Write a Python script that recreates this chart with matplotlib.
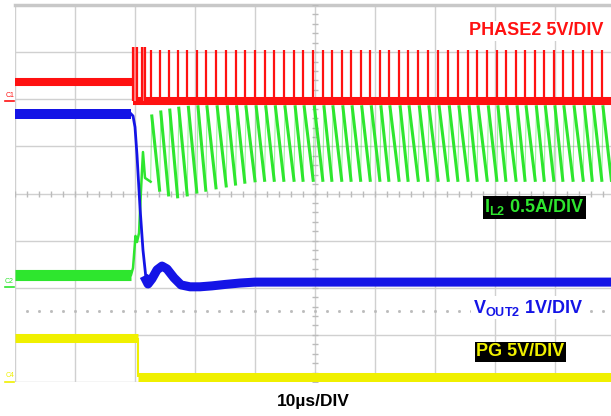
import numpy as np
import matplotlib.pyplot as plt

plt.rcParams['font.family'] = ['Liberation Sans', 'DejaVu Sans']
plt.rcParams['mathtext.fontset'] = 'custom'
plt.rcParams['mathtext.rm'] = 'Liberation Sans'
plt.rcParams['mathtext.bf'] = 'Liberation Sans:bold'

# 时间轴 µs (10µs/DIV)，纵轴以格为单位，中心为 0

# PHASE2 5V/DIV
phase_pre = 2.37
phase_base = 1.96
phase_top = 3.05
t_switch = 19.6
phase_bursts = [(19.6, 20.3), (21.1, 21.7)]
phase_pulses = [22.6, 24.1, 25.6, 27.1, 28.7, 30.3, 31.8, 33.5, 35.2, 36.75,
                38.3, 40.0, 41.6, 43.2, 44.8, 46.5, 48.0, 49.7, 51.3, 52.8,
                54.45, 56.0, 57.6, 59.2, 60.8, 62.3, 64.0, 65.5, 67.2, 68.8,
                70.5, 72.2, 73.8, 75.5, 77.0, 78.7, 80.3, 81.8, 83.5, 85.0,
                86.7, 88.2, 89.8, 91.3, 93.0, 94.7, 96.2, 97.8]

# IL2 0.5A/DIV
il_pre = -1.73
il_start_t = [19.33, 19.67, 20.08, 20.33, 20.67, 21.0, 21.33, 21.67]
il_start_v = [-1.73, -1.58, -0.90, -1.03, -0.84, 0.07, 0.88, 0.33]
il_valley = [0.25, 0.07, -0.03, -0.07, -0.03, 0.03, 0.07, 0.12, 0.16, 0.20,
             0.24, 0.27, 0.28, 0.28, 0.28, 0.28, 0.28, 0.28, 0.28, 0.28,
             0.28, 0.28, 0.28, 0.28, 0.28, 0.28, 0.28, 0.28, 0.28, 0.28,
             0.28, 0.28, 0.28, 0.28, 0.28, 0.28, 0.28, 0.28, 0.28, 0.28,
             0.28, 0.28, 0.28, 0.28, 0.28, 0.28, 0.28, 0.28]
il_peak = [1.645, 1.73, 1.77, 1.81, 1.83, 1.84, 1.84, 1.84, 1.84, 1.84,
           1.84, 1.84, 1.84, 1.84, 1.84, 1.84, 1.84, 1.84, 1.84, 1.84,
           1.84, 1.84, 1.84, 1.84, 1.84, 1.84, 1.84, 1.84, 1.84, 1.84,
           1.84, 1.84, 1.84, 1.84, 1.84, 1.84, 1.84, 1.84, 1.84, 1.84,
           1.84, 1.84, 1.84, 1.84, 1.84, 1.84, 1.84, 1.84]
il_end = (99.4, 0.28)

# VOUT2 1V/DIV
vout_pre = 1.69
vout_fall_t = [19.33, 19.67, 20.0, 20.33, 20.83, 21.33, 21.83, 22.17]
vout_fall_v = [1.69, 1.645, 1.41, 0.82, -0.29, -1.20, -1.80, -1.92]
vout_settle_t = [21.83, 22.17, 22.83, 23.67, 24.5, 25.33, 26.5, 27.67,
                 29.17, 30.83, 32.83, 35.0, 37.5, 40.0, 100.0]
vout_settle_v = [-1.835, -1.92, -1.81, -1.62, -1.54, -1.60, -1.79, -1.94,
                 -1.98, -1.98, -1.96, -1.93, -1.90, -1.88, -1.88]

# PG 5V/DIV
pg_high = -3.07
pg_low = -3.90
t_pg = 20.45

red = '#ff1111'
blue = '#1414e6'
green = '#2ee62e'
yellow = '#f0f000'
grid_c = '#d0d0d0'

fig = plt.figure(figsize=(6.11, 4.16), dpi=100)
ax = fig.add_axes([15 / 611, 34 / 416, 596 / 611, 377 / 416])
ax.set_xlim(0, 596 / 6)
ax.set_ylim(-4, 4)
ax.axis('off')

# 示波器网格
for t in range(0, 100, 10):
    ax.axvline(t, color=grid_c, lw=1, zorder=0)
for d in range(-4, 4):
    ax.axhline(d, color=grid_c, lw=1, zorder=0)
ax.axhline(4, color='#c8c8c8', lw=2.5, zorder=0, clip_on=False)
ax.plot(np.arange(0, 100, 2), np.zeros(50), '|', ms=4, color='#bbbbbb', zorder=0)
ax.plot(np.full(41, 50), np.linspace(-4, 4, 41), '_', ms=4, color='#bbbbbb', zorder=0)
ax.plot(np.arange(2, 100, 2), np.full(49, -2.5), 's', ms=1, color='#bbbbbb', zorder=0)

# PHASE2
ax.plot([0, t_switch], [phase_pre, phase_pre], color=red, lw=5.8,
        solid_capstyle='butt', zorder=5)
ax.plot([t_switch, 100], [phase_base, phase_base], color=red, lw=5.8,
        solid_capstyle='butt', zorder=5)
for a, b in phase_bursts:
    ax.fill_between([a, b], phase_base, phase_top + 0.05, color='#ff8c8c', lw=0, zorder=5)
    ax.vlines([a, b], phase_base, phase_top + 0.05, color=red, lw=1.6, zorder=5)
ax.vlines(phase_pulses, phase_base, phase_top, color=red, lw=1.6, zorder=5)

# IL2：开关前电平 + 启动瞬态 + 锯齿纹波
ax.plot([0, il_start_t[0]], [il_pre, il_pre], color=green, lw=8,
        solid_capstyle='butt', zorder=3)
ax.plot(il_start_t + [phase_pulses[0]], il_start_v + [il_valley[0]],
        color=green, lw=1.8, zorder=3)
# 下降段（实线）和上升沿（很快，显示得很淡）
fall_t, fall_v, rise_t, rise_v = [], [], [], []
ends_t = phase_pulses[1:] + [il_end[0]]
ends_v = il_valley[1:] + [il_end[1]]
for p, lo, hi, te, ve in zip(phase_pulses, il_valley, il_peak, ends_t, ends_v):
    rise_t += [p, p + 0.2, np.nan]
    rise_v += [lo, hi, np.nan]
    fall_t += [p + 0.2, te, np.nan]
    fall_v += [hi, ve, np.nan]
ax.plot(rise_t, rise_v, color=green, lw=0.8, alpha=0.45, zorder=3)
ax.plot(fall_t, fall_v, color=green, lw=2.2, zorder=3)

# VOUT2
ax.plot([0, vout_fall_t[0]], [vout_pre, vout_pre], color=blue, lw=7.2,
        solid_capstyle='butt', zorder=4)
ax.plot(vout_fall_t, vout_fall_v, color=blue, lw=2, zorder=4)
ax.plot(vout_settle_t, vout_settle_v, color=blue, lw=6.5, zorder=4)

# PG
ax.plot([0, t_pg], [pg_high, pg_high], color=yellow, lw=6.5,
        solid_capstyle='butt', zorder=2)
ax.vlines(t_pg, pg_low, pg_high, color=yellow, lw=1.5, zorder=2)
ax.plot([t_pg, 100], [pg_low, pg_low], color=yellow, lw=6.5,
        solid_capstyle='butt', zorder=2)

# 通道地线标记
for lab, y, c in [('C1', 2.09, red), ('C2', -1.86, green), ('C4', -3.87, yellow)]:
    ax.text(-0.9, y, lab, fontsize=5, color=c, ha='center', va='center', clip_on=False)
    ax.plot([-1.6, -0.1], [y - 0.12, y - 0.12], color=c, lw=1.2, clip_on=False)

# 通道标签
ax.text(86.8, 3.45, 'PHASE2 5V/DIV', color=red, fontsize=13, fontweight='bold',
        ha='center', va='center', zorder=6,
        bbox=dict(facecolor='white', edgecolor='none', pad=1))
ax.text(86.6, -0.29, r'$\mathbf{I_{L2}}$ 0.5A/DIV', color=green, fontsize=13,
        fontweight='bold', ha='center', va='center', zorder=6,
        bbox=dict(facecolor='black', edgecolor='none', pad=1))
ax.text(85.5, -2.42, r'$\mathbf{V_{OUT2}}$ 1V/DIV', color=blue, fontsize=13,
        fontweight='bold', ha='center', va='center', zorder=6,
        bbox=dict(facecolor='white', edgecolor='none', pad=1))
ax.text(84.2, -3.36, 'PG 5V/DIV', color=yellow, fontsize=13, fontweight='bold',
        ha='center', va='center', zorder=6,
        bbox=dict(facecolor='black', edgecolor='none', pad=1))
ax.text(49.8, -4.42, '10µs/DIV', color='black', fontsize=12.5, fontweight='bold',
        ha='center', va='center', clip_on=False)

plt.savefig('out.png', dpi=100)
